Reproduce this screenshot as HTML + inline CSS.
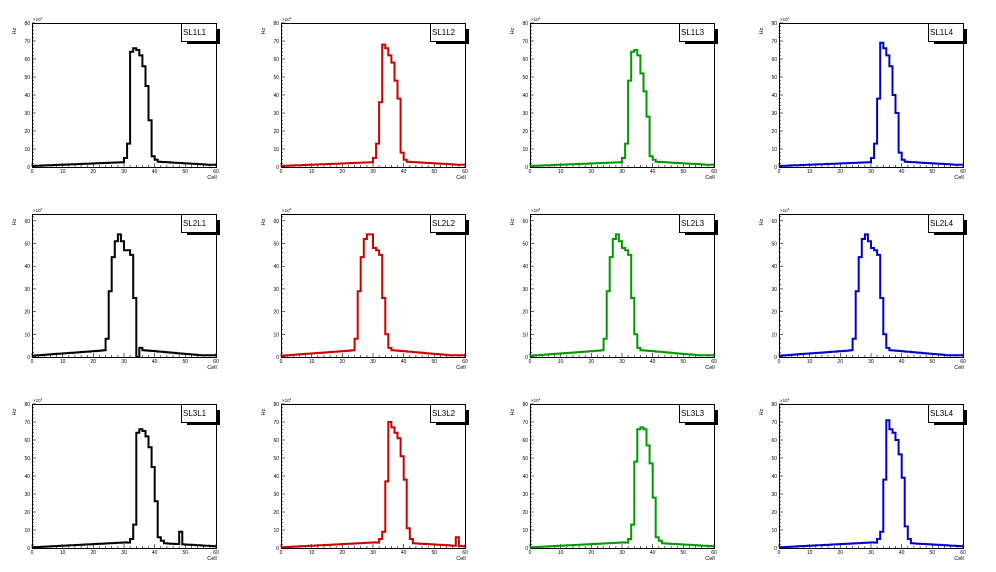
<!DOCTYPE html>
<html><head><meta charset="utf-8"><style>
html,body{margin:0;padding:0;background:#fff;}
svg{display:block;font-family:"Liberation Sans",sans-serif;}
</style></head><body>
<svg id="s" width="996" height="572" viewBox="0 0 996 572" xmlns="http://www.w3.org/2000/svg"></svg>
<script>
var s=document.getElementById('s');var h='';
var cols=[32,281,530,779],rows=[[23,167,80],[214,357,63],[404,548,80]];
var colors=['#000000','#cc0000','#009900','#0000cc'];
function mk(row,c){
 var a=[];
 for(var i=0;i<60;i++){var v;
  if(row==0){v=i<30?0.6+i*0.07:Math.max(1.2,3-(i-40)*0.1);}
  else if(row==1){v=i<24?0.6+i*0.1:Math.max(0.8,3-(i-36)*0.12);}
  else{v=i<33?0.4+i*0.09:Math.max(1.0,2.8-(i-41)*0.1);}
  a.push(v);}
 var pk;
 if(row==0){pk={30:5,31:13,32:64,33:66,34:65,35:62,36:56,37:45,38:26,39:6,40:4};
  if(c==1)pk={30:5,31:13,32:36,33:68,34:66,35:62,36:58,37:48,38:38,39:8,40:4};
  if(c==2)pk={30:5,31:13,32:48,33:64,34:65,35:62,36:52,37:42,38:28,39:6,40:4};
  if(c==3)pk={30:5,31:13,32:38,33:69,34:66,35:62,36:56,37:40,38:30,39:8,40:4};}
 else if(row==1){pk={23:3,24:8,25:29,26:44,27:51,28:54,29:51,30:47,31:47,32:45,33:26,34:0,35:4,36:3};
  if(c>0)pk={23:3,24:8,25:29,26:44,27:52,28:54,29:51,30:48,31:47,32:45,33:26,34:10,35:4,36:3};
  if(c==1)pk[28]=54,pk[29]=54;}
 else{pk={31:3,32:5,33:13,34:64,35:66,36:65,37:62,38:56,39:45,40:26,41:6,42:4};
  if(c==1)pk={31:3,32:5,33:9,34:37,35:70,36:67,37:64,38:61,39:51,40:38,41:11,42:5},pk[57]=6;
  if(c==2)pk={31:3,32:5,33:13,34:48,35:66,36:67,37:66,38:57,39:47,40:28,41:6,42:4};
  if(c==3)pk={31:3,32:5,33:9,34:38,35:71,36:66,37:64,38:60,39:52,40:39,41:12,42:5};
  if(c==0)pk[48]=9;}
 for(var k in pk)a[+k]=pk[k];
 return a;}
for(var r=0;r<3;r++)for(var c=0;c<4;c++){
 var x0=cols[c],x1=x0+184,y0=rows[r][0],y1=rows[r][1],ym=rows[r][2];
 var sx=function(v){return x0+(x1-x0)*v/60},sy=function(v){return y1-(y1-y0)*v/ym};
 h+='<rect x="'+x0+'.5" y="'+y0+'.5" width="184" height="'+(y1-y0)+'" fill="none" stroke="#000" stroke-width="1"/>';
 for(var t=0;t<=60;t+=2){var tx=sx(t).toFixed(1);var L=t%10==0?4:2;
  h+='<line x1="'+tx+'" y1="'+y1+'" x2="'+tx+'" y2="'+(y1-L)+'" stroke="#000" stroke-width="0.6"/>';
  if(t%10==0)h+='<text x="'+tx+'" y="'+(y1+6)+'" font-size="5" text-anchor="middle">'+t+'</text>';}
 for(var t=0;t<=ym;t+=2){var ty=sy(t).toFixed(1);var L=t%10==0?4:2;
  h+='<line x1="'+x0+'" y1="'+ty+'" x2="'+(x0+L)+'" y2="'+ty+'" stroke="#000" stroke-width="0.6"/>';
  if(t%10==0)h+='<text x="'+(x0-2)+'" y="'+(+ty+2)+'" font-size="5" text-anchor="end">'+t+'</text>';}
 h+='<text x="'+(x1-4)+'" y="'+(y1+12)+'" font-size="5.5" text-anchor="middle">Cell</text>';
 h+='<text x="'+(x0-16)+'" y="'+(y0+8)+'" font-size="5.5" transform="rotate(-90 '+(x0-16)+' '+(y0+8)+')" text-anchor="middle">Hz</text>';
 h+='<text x="'+(x0+1)+'" y="'+(y0-2)+'" font-size="4.5">×10<tspan dy="-2" font-size="3">3</tspan></text>';
 var a=mk(r,c),p='M'+x0+' '+sy(a[0]).toFixed(1);
 for(var i=0;i<60;i++){var yy=sy(a[i]).toFixed(1);p+=' L'+sx(i).toFixed(1)+' '+yy+' L'+sx(i+1).toFixed(1)+' '+yy;}
 h+='<path d="'+p+'" fill="none" stroke="'+colors[c]+'" stroke-width="2"/>';
 h+='<rect x="'+(x1-29)+'" y="'+(y0+6)+'" width="33" height="15" fill="#000"/>';
 h+='<rect x="'+(x1-35)+'.5" y="'+y0+'.5" width="35" height="18" fill="#fff" stroke="#000" stroke-width="1"/>';
 h+='<text x="'+(x1-33)+'" y="'+(y0+12)+'" font-size="8">SL'+(r+1)+'L'+(c+1)+'</text>';
}
s.innerHTML=h;
</script>
</body></html>
